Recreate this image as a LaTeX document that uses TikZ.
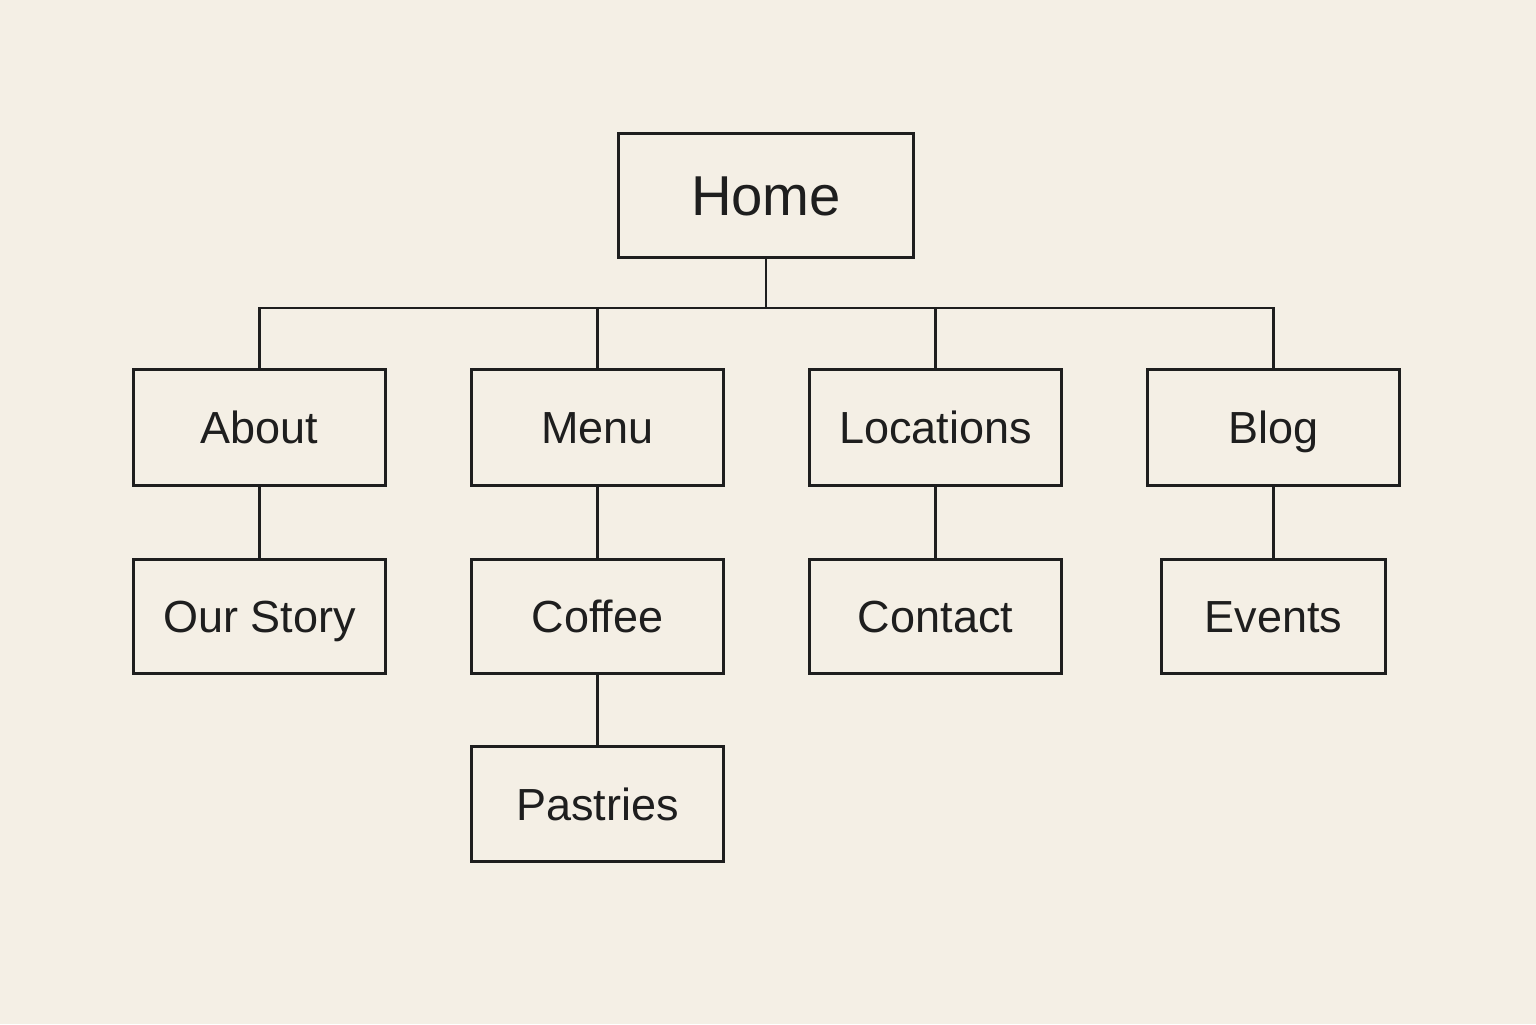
\documentclass[tikz,border=0pt]{standalone}
\usepackage{xcolor}
\usepackage{fontspec}
\setmainfont{Liberation Sans}
\usepackage{tikz}
\usetikzlibrary{positioning}

\definecolor{paper}{HTML}{F4EFE5}
\definecolor{ink}{HTML}{1E1E1E}

\begin{document}
\begin{tikzpicture}[
  node distance=0.74cm and 0.86cm,
  page/.style={rectangle, draw=ink, line width=0.8pt, align=center,
               text=ink, inner sep=2pt, outer sep=0pt},
  homebox/.style={page, minimum width=2.95cm, minimum height=1.24cm,
                  font=\fontsize{16}{19}\selectfont,
                  text height=13.5pt, text depth=2pt},
  sectionbox/.style={page, minimum width=2.52cm, minimum height=1.16cm,
                     font=\fontsize{12.8}{15}\selectfont,
                     text height=11pt, text depth=1.8pt},
  subbox/.style={sectionbox, minimum height=1.14cm},
  link/.style={draw=ink, line width=0.8pt}
]

% page and margins
\fill[paper] (0,0) rectangle (15.36,-10.24);
\useasboundingbox (0,0) rectangle (15.36,-10.24);

% top level
\node[homebox] (home) at (7.66,-1.955) {Home};

% sections
\node[sectionbox] (about) at (2.595,-4.275) {About};
\node[sectionbox, right=of about] (menu) {Menu};
\node[sectionbox, right=of menu] (locations) {Locations};
\node[sectionbox, right=of locations] (blog) {Blog};

% sub pages
\node[subbox, below=of about] (story) {Our Story};
\node[subbox, below=of menu] (coffee) {Coffee};
\node[subbox, below=of locations] (contact) {Contact};
\node[subbox, below=of blog, minimum width=2.24cm] (events) {Events};
\node[subbox, below=0.73cm of coffee, minimum height=1.15cm] (pastries) {Pastries};

% tree lines
\draw[link] (home.south) -- ++(0,-0.505) coordinate (bar);
\draw[link] (bar) -| (about.north);
\draw[link] (bar) -| (menu.north);
\draw[link] (bar) -| (locations.north);
\draw[link] (bar) -| (blog.north);

\draw[link] (about) -- (story);
\draw[link] (menu) -- (coffee);
\draw[link] (coffee) -- (pastries);
\draw[link] (locations) -- (contact);
\draw[link] (blog) -- (events);

\end{tikzpicture}
\end{document}
